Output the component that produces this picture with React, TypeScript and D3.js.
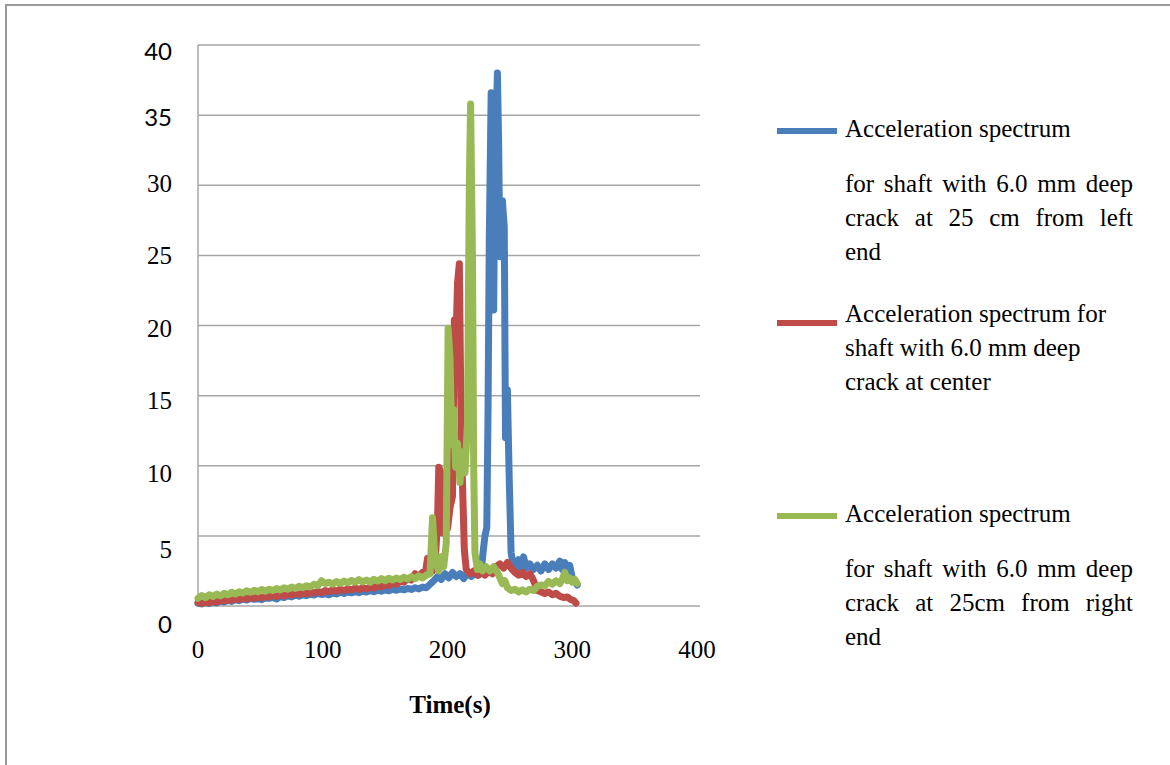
import React, { useEffect, useRef } from 'react';
import * as d3 from 'd3';

// Series 1: crack at 25 cm from left end (time in s, acceleration)
const leftTime = [
  0, 3, 6, 9, 12, 15, 18, 21, 24, 27, 30, 33, 36, 39, 42, 45, 48, 51, 54, 57, 60, 63, 66, 69, 72, 75, 78, 81, 84, 87,
  90, 93, 96, 99, 102, 105, 108, 111, 114, 117, 120, 123, 126, 129, 132, 135, 138, 141, 144, 147, 150, 153, 156, 159,
  162, 165, 168, 171, 174, 177, 180, 183, 186,
  189, 192, 195, 198, 201, 204, 207, 210, 213, 216, 219, 222, 225,
  227, 228.5, 230, 231.5, 232.5, 233.5, 235, 236, 237, 238, 240, 241, 242, 243, 244, 245.5, 246.5, 248, 249.5, 251, 252.5,
  255, 257, 259, 261, 263, 266, 269, 272, 275, 278, 281, 284, 287, 290, 292, 294, 296, 298, 300, 302, 304,
];
const leftAccel = [
  0.2, 0.15, 0.25, 0.18, 0.3, 0.22, 0.35, 0.28, 0.4, 0.33, 0.45, 0.38, 0.5, 0.42, 0.55, 0.48, 0.52, 0.45, 0.6, 0.55,
  0.62, 0.5, 0.68, 0.6, 0.72, 0.65, 0.78, 0.7, 0.8, 0.74, 0.85, 0.78, 0.9, 0.82, 0.88, 0.8, 0.92, 0.86, 0.98, 0.9,
  1.0, 0.94, 1.02, 0.95, 1.05, 1.0, 1.1, 1.02, 1.12, 1.06, 1.15, 1.08, 1.2, 1.12, 1.22, 1.15, 1.25, 1.18, 1.3, 1.22,
  1.35, 1.3, 1.55,
  1.8, 2.1, 1.9, 2.3, 2.0, 2.4, 2.1, 2.3, 1.95, 2.4, 2.1, 2.3, 2.2,
  2.5, 3.8, 5.0, 5.6, 14.0, 26.2, 36.6, 30.0, 21.1, 31.0, 38.0, 33.0, 24.9, 26.0, 28.9, 27.0, 12.0, 15.4, 9.0, 3.8, 3.0,
  2.8, 3.3, 2.6, 3.5, 2.7, 3.0, 2.6, 2.9, 2.5, 3.0, 2.6, 3.0, 2.7, 3.2, 2.6, 3.1, 2.5, 2.9, 2.0, 1.8, 1.5,
];

// Series 2: crack at center
const centerTime = [
  0, 3, 6, 9, 12, 15, 18, 21, 24, 27, 30, 33, 36, 39, 42, 45, 48, 51, 54, 57, 60, 63, 66, 69, 72, 75, 78, 81, 84, 87,
  90, 93, 96, 99, 102, 105, 108, 111, 114, 117, 120, 123, 126, 129, 132, 135, 138, 141, 144, 147, 150, 153, 156, 159,
  162, 165, 168, 171, 174, 177, 180,
  182, 184, 186, 188, 190, 192, 193, 195, 196.5, 198, 200, 202, 204,
  205.5, 207, 208, 209.5, 211, 212, 213.5, 215,
  218, 221, 224, 227, 230, 233, 236, 239, 242, 245, 248, 251, 254, 257, 260, 263, 266,
  268, 270, 272, 275, 278, 281, 284, 287, 290, 293, 296, 299, 301, 303,
];
const centerAccel = [
  0.25, 0.2, 0.3, 0.22, 0.35, 0.28, 0.42, 0.35, 0.48, 0.4, 0.52, 0.45, 0.58, 0.5, 0.62, 0.55, 0.66, 0.58, 0.7, 0.64,
  0.75, 0.68, 0.8, 0.72, 0.85, 0.78, 0.9, 0.82, 0.95, 0.86, 1.0, 0.92, 1.05, 0.95, 1.1, 1.02, 1.15, 1.05, 1.2, 1.1,
  1.22, 1.15, 1.28, 1.18, 1.3, 1.22, 1.35, 1.28, 1.45, 1.35, 1.55, 1.45, 1.65, 1.55, 1.8, 1.7, 1.95, 1.85, 2.3, 2.1,
  2.4,
  2.2, 3.4, 2.6, 2.5, 3.0, 6.0, 9.9, 9.5, 5.2, 6.0, 5.5, 7.0, 7.8,
  20.4, 19.5, 23.0, 24.4, 12.0, 8.8, 4.0, 2.6,
  2.3, 2.5, 2.2, 2.4, 2.2, 2.5, 2.3, 2.8, 3.0, 2.7, 3.1, 2.7, 2.4, 2.2, 2.4, 2.1, 2.3,
  2.0, 1.6, 1.1, 1.0, 0.9, 1.0, 0.8, 0.9, 0.7, 0.6, 0.65, 0.45, 0.4, 0.2,
];

// Series 3: crack at 25 cm from right end
const rightTime = [
  0, 3, 6, 9, 12, 15, 18, 21, 24, 27, 30, 33, 36, 39, 42, 45, 48, 51, 54, 57, 60, 63, 66, 69, 72, 75, 78, 81, 84, 87,
  90, 93, 96, 99, 102, 105, 108, 111, 114, 117, 120, 123, 126, 129, 132, 135, 138, 141, 144, 147, 150, 153, 156, 159,
  162, 165, 168, 171, 174, 177, 180, 183,
  186, 188, 189.5, 191, 193, 195, 197, 199,
  200.5, 202, 203.5, 205, 206.5, 208, 210, 212, 214, 216,
  217.5, 218.5, 220, 221, 222, 224, 226, 228, 231, 234, 237, 240, 242, 244, 246, 248,
  251, 254, 257, 260, 263, 266, 269, 272, 275, 278, 281, 284, 287, 290, 292, 294, 296, 298, 300, 302, 304,
];
const rightAccel = [
  0.55, 0.75, 0.6, 0.8, 0.68, 0.85, 0.72, 0.9, 0.8, 0.98, 0.85, 1.02, 0.92, 1.08, 0.98, 1.12, 1.02, 1.18, 1.05, 1.2,
  1.1, 1.25, 1.15, 1.3, 1.2, 1.35, 1.25, 1.4, 1.3, 1.45, 1.35, 1.55, 1.45, 1.8, 1.6, 1.7, 1.55, 1.75, 1.6, 1.78,
  1.65, 1.82, 1.7, 1.88, 1.72, 1.85, 1.7, 1.9, 1.78, 1.95, 1.8, 1.98, 1.85, 2.0, 1.88, 2.05, 1.92, 2.1, 1.95, 2.15,
  2.0, 2.2,
  2.3, 6.3, 4.0, 3.0, 2.5, 3.5, 2.8, 4.5,
  19.8, 17.7, 11.5, 14.0, 9.9, 11.6, 8.8, 11.0, 9.5, 13.0,
  30.0, 35.8, 25.0, 10.0, 3.8, 2.6, 3.0, 2.5, 2.8, 2.5, 2.8, 2.4, 2.0, 1.6, 1.8, 1.3,
  1.1, 1.2, 1.0, 1.15, 1.0, 1.2, 1.1, 1.4, 1.5, 1.45, 1.75, 1.55, 1.8, 1.6, 1.9, 2.4, 1.8, 2.0, 1.7, 1.9, 1.6,
];

const xTicks = [0, 100, 200, 300, 400];
const yTicks = [0, 5, 10, 15, 20, 25, 30, 35, 40];
const xTitle = 'Time(s)';

// legend entries; an empty string marks a paragraph break
const legendText = [
  ['Acceleration spectrum', '', 'for shaft with 6.0 mm deep', 'crack at 25 cm from left', 'end'],
  ['Acceleration spectrum for', 'shaft with 6.0 mm deep', 'crack at center'],
  ['Acceleration spectrum', '', 'for shaft with 6.0 mm deep', 'crack at 25cm from right', 'end'],
];
const legendJustified = [true, false, true];

const App = () => {
  const ref = useRef<SVGSVGElement>(null);

  useEffect(() => {
    const svg = d3.select(ref.current);
    svg.selectAll('*').remove();

    const width = 1170;
    const height = 765;
    const plot = { left: 198, right: 700, top: 45, bottom: 606 };
    const serif = '"Liberation Serif", "Times New Roman", serif';
    const sans = 'Lato, "Liberation Sans", sans-serif';
    const colors = ['#4A7EBB', '#BE4B48', '#98B954'];
    const fontSize = 25;

    const x = d3.scaleLinear().domain([0, 400]).range([plot.left, 697]);
    const y = d3.scaleLinear().domain([0, 40]).range([plot.bottom, plot.top]);
    // the tick labels in the source sit slightly off their gridlines
    const yLabel = d3.scaleLinear().domain([0, 10, 30, 40]).range([625, 473, 183, 52]);

    // outer frame
    svg.append('rect')
      .attr('x', 6)
      .attr('y', 5)
      .attr('width', width + 20)
      .attr('height', height + 20)
      .attr('fill', '#fff')
      .attr('stroke', '#9a9a9a')
      .attr('stroke-width', 2);

    // gridlines
    svg.append('g')
      .selectAll('line')
      .data(yTicks)
      .join('line')
      .attr('x1', plot.left)
      .attr('x2', plot.right)
      .attr('y1', d => y(d))
      .attr('y2', d => y(d))
      .attr('stroke', '#a6a6a6')
      .attr('stroke-width', 1.5);

    // y axis line
    svg.append('line')
      .attr('x1', plot.left)
      .attr('x2', plot.left)
      .attr('y1', plot.top)
      .attr('y2', plot.bottom)
      .attr('stroke', '#a6a6a6')
      .attr('stroke-width', 1.5);

    // series
    const series = [
      leftTime.map((t, i) => [t, leftAccel[i]] as [number, number]),
      centerTime.map((t, i) => [t, centerAccel[i]] as [number, number]),
      rightTime.map((t, i) => [t, rightAccel[i]] as [number, number]),
    ];
    const line = d3.line<[number, number]>()
      .x(d => x(d[0]))
      .y(d => y(d[1]));

    svg.append('g')
      .selectAll('path')
      .data(series)
      .join('path')
      .attr('d', d => line(d))
      .attr('fill', 'none')
      .attr('stroke', (d, i) => colors[i])
      .attr('stroke-width', 7)
      .attr('stroke-linejoin', 'round')
      .attr('stroke-linecap', 'round');

    // y tick labels
    svg.append('g')
      .selectAll('text')
      .data(yTicks)
      .join('text')
      .attr('x', 172)
      .attr('y', d => yLabel(d))
      .attr('dy', '0.35em')
      .attr('text-anchor', 'end')
      .style('font-family', d => (d === 0 || d >= 35 ? sans : serif))
      .style('font-size', d => (d === 0 || d >= 35 ? '24px' : `${fontSize}px`))
      .style('fill', '#000')
      .text(d => d);

    // x tick labels
    svg.append('g')
      .selectAll('text')
      .data(xTicks)
      .join('text')
      .attr('x', d => x(d))
      .attr('y', 658)
      .attr('text-anchor', 'middle')
      .style('font-family', serif)
      .style('font-size', `${fontSize}px`)
      .text(d => d);

    // x axis title
    svg.append('text')
      .attr('x', 450)
      .attr('y', 713)
      .attr('text-anchor', 'middle')
      .style('font-family', serif)
      .style('font-size', `${fontSize}px`)
      .style('font-weight', 'bold')
      .text(xTitle);

    // legend
    const swatchY = [131, 323, 516];
    const firstBaseline = [137, 322, 522];
    const lineGap = 34;
    const paraGap = 21;
    const textLeft = 845;
    const textRight = 1133;

    legendText.forEach((lines, k) => {
      svg.append('line')
        .attr('x1', 777)
        .attr('x2', 837)
        .attr('y1', swatchY[k])
        .attr('y2', swatchY[k])
        .attr('stroke', colors[k])
        .attr('stroke-width', 6);

      let yy = firstBaseline[k];
      lines.forEach((txt, j) => {
        if (txt === '') {
          yy += paraGap;
          return;
        }
        const t = svg.append('text')
          .attr('x', textLeft)
          .attr('y', yy)
          .style('font-family', serif)
          .style('font-size', `${fontSize}px`)
          .text(txt);
        const next = lines[j + 1];
        const lastInPara = next === undefined || next === '';
        if (legendJustified[k] && !lastInPara) {
          const node = t.node() as SVGTextElement;
          const len = node.getComputedTextLength();
          const spaces = (txt.match(/ /g) || []).length;
          if (spaces > 0) {
            t.style('word-spacing', `${(textRight - textLeft - len) / spaces}px`);
          }
        }
        yy += lineGap;
      });
    });
  }, []);

  return (
    <svg
      ref={ref}
      width={1170}
      height={765}
      style={{ position: 'absolute', left: 0, top: 0, background: '#fff' }}
    />
  );
};

export default App;
